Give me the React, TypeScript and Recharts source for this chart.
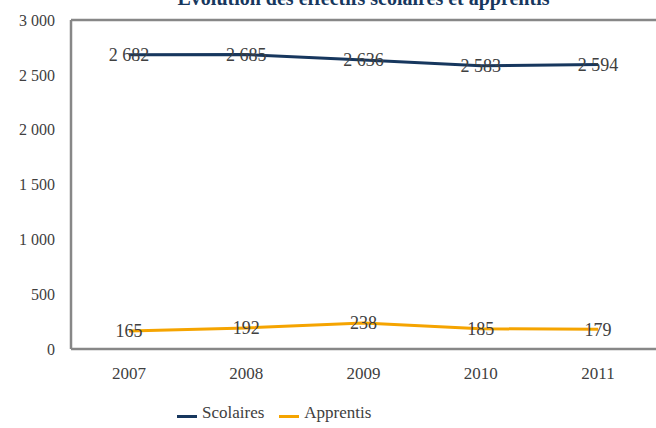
import { LineChart, Line, XAxis, YAxis, Legend, LabelList, ReferenceLine } from "recharts"

const years = ["2007", "2008", "2009", "2010", "2011"]
const scolaires = [2682, 2685, 2636, 2583, 2594]
const apprentis = [165, 192, 238, 185, 179]
const yTicks = [0, 500, 1000, 1500, 2000, 2500, 3000]

const data = years.map((year, i) => ({ year, scolaires: scolaires[i], apprentis: apprentis[i] }))

const NAVY = "#17375E"
const ORANGE = "#F5A400"
const GRAY = "#878787"
const TEXT = "#404040"
const FONT = "'Liberation Serif', 'Times New Roman', serif"

const fmt = (v: number) => String(v).replace(/\B(?=(\d{3})+(?!\d))/g, " ")

const legendItems = [
  { name: "Scolaires", color: NAVY },
  { name: "Apprentis", color: ORANGE },
]

function LegendContent() {
  return (
    <div style={{ display: "flex", alignItems: "center", gap: 15, fontFamily: FONT, fontSize: 17, color: TEXT, marginTop: 14 }}>
      {legendItems.map((it) => (
        <div key={it.name} style={{ display: "flex", alignItems: "center", gap: 5 }}>
          <div style={{ width: 20, height: 3, background: it.color, marginTop: 7 }} />
          <span>{it.name}</span>
        </div>
      ))}
    </div>
  )
}

export default function App() {
  return (
    <div style={{ position: "absolute", left: 0, top: 0, width: 656, height: 428, overflow: "hidden", background: "#fff", fontFamily: FONT }}>
      <div
        style={{
          position: "absolute",
          left: 71,
          width: 585,
          top: -12,
          textAlign: "center",
          fontFamily: FONT,
          fontSize: 20,
          lineHeight: "20px",
          fontWeight: "bold",
          color: NAVY,
        }}
      >
        Évolution des effectifs scolaires et apprentis
      </div>
      <LineChart width={656} height={428} data={data} margin={{ top: 20, right: 0, left: 0, bottom: 0 }} style={{ fontFamily: FONT }}>
        <XAxis
          dataKey="year"
          height={40}
          tickSize={0}
          tickMargin={18}
          padding={{ left: 58, right: 58 }}
          axisLine={{ stroke: GRAY, strokeWidth: 2.5 }}
          tick={{ fill: TEXT, fontSize: 17, fontFamily: FONT }}
        />
        <YAxis
          width={71}
          domain={[0, 3000]}
          ticks={yTicks}
          tickSize={0}
          tickMargin={16}
          tickFormatter={fmt}
          axisLine={{ stroke: GRAY, strokeWidth: 2.5 }}
          tick={{ fill: TEXT, fontSize: 16, fontFamily: FONT }}
        />
        <ReferenceLine y={3000} stroke={GRAY} strokeWidth={2.5} />
        <Legend
          verticalAlign="bottom"
          height={39}
          content={<LegendContent />}
          wrapperStyle={{ left: 177, width: "auto" }}
        />
        <Line dataKey="scolaires" name="Scolaires" stroke={NAVY} strokeWidth={3} dot={false} isAnimationActive={false}>
          <LabelList dataKey="scolaires" position="center" formatter={fmt} fill={TEXT} fontSize={18} fontFamily={FONT} />
        </Line>
        <Line dataKey="apprentis" name="Apprentis" stroke={ORANGE} strokeWidth={3} dot={false} isAnimationActive={false}>
          <LabelList dataKey="apprentis" position="center" formatter={fmt} fill={TEXT} fontSize={18} fontFamily={FONT} />
        </Line>
      </LineChart>
    </div>
  )
}
